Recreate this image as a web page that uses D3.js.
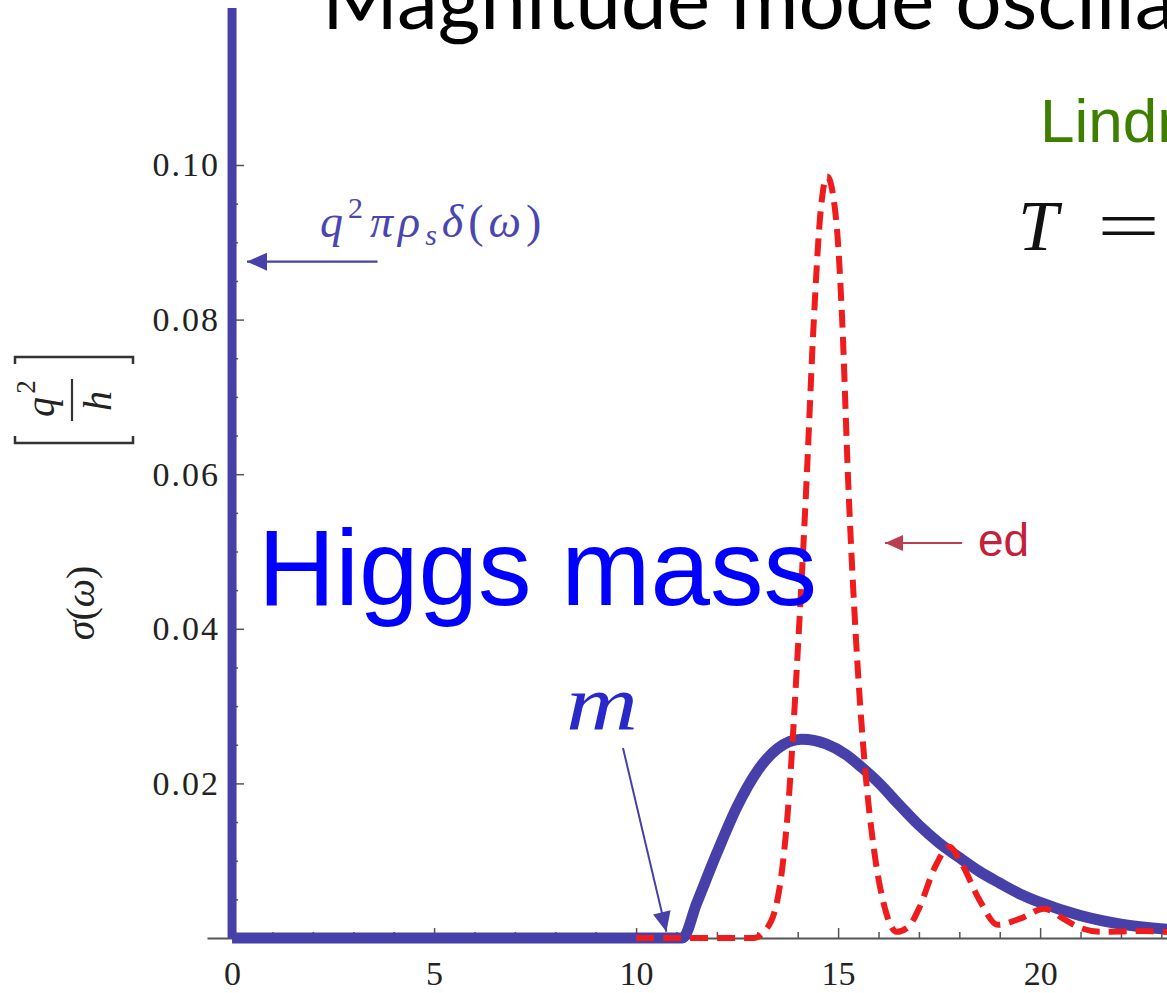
<!DOCTYPE html>
<html>
<head>
<meta charset="utf-8">
<script src="https://cdn.jsdelivr.net/npm/d3@7"></script>
<style>
  html, body { margin: 0; padding: 0; background: #ffffff; }
  svg { display: block; }
</style>
</head>
<body>
<svg id="chart" width="1167" height="993"></svg>
<script>
// Conductivity sigma(omega) of the superfluid: condensate delta peak,
// smooth Higgs (amplitude mode) response and the exact-diagonalization curve.

// Condensate delta function at omega = 0 (clipped at the top of the plot range)
const deltaOmega = [0, 0];
const deltaSigma = [0, 0.1203];

// Smooth amplitude-mode response (thick blue)
const blueOmega = [0, 11.15, 11.5, 12.0, 12.5, 13.0, 13.5, 14.1, 14.7, 15.2, 15.6, 16.0, 16.5, 17.0, 17.5, 18.0, 18.5, 19.0, 19.5, 20.0, 21.0, 22.0, 23.2];
const blueSigma = [0, 0, 0.0045, 0.0110, 0.0170, 0.0216, 0.0245, 0.0257, 0.0251, 0.0237, 0.0220, 0.0201, 0.0173, 0.0146, 0.0123, 0.0104, 0.0086, 0.0071, 0.0057, 0.0046, 0.0029, 0.0018, 0.0011];

// Exact diagonalization result (red dashed)
const redOmega = [10, 12.9, 13.2, 13.5, 13.75, 14.0, 14.2, 14.4, 14.55, 14.73, 14.95, 15.1, 15.25, 15.45, 15.65, 15.9, 16.15, 16.45, 16.75, 17.0, 17.4, 17.75, 18.05, 18.5, 18.95, 19.5, 20.1, 20.6, 21.0, 21.5, 22.5, 23.2];
const redSigma = [0, 0, 0.001, 0.005, 0.016, 0.037, 0.057, 0.080, 0.093, 0.0985, 0.093, 0.080, 0.059, 0.038, 0.023, 0.011, 0.004, 0.0008, 0.0015, 0.0038, 0.0092, 0.0118, 0.0097, 0.0049, 0.0017, 0.0025, 0.0038, 0.0024, 0.0013, 0.0008, 0.0009, 0.0008];

// Axis ticks
const xMajorTicks = [0, 5, 10, 15, 20];
const xMinorTicks = [1, 2, 3, 4, 6, 7, 8, 9, 11, 12, 13, 14, 16, 17, 18, 19, 21, 22, 23];
const yMajorTicks = [0.02, 0.04, 0.06, 0.08, 0.10];
const yMinorTicks = [0.005, 0.01, 0.015, 0.025, 0.03, 0.035, 0.045, 0.05, 0.055, 0.065, 0.07, 0.075, 0.085, 0.09, 0.095];

const svg = d3.select("#chart");
svg.append("rect").attr("width", 1167).attr("height", 993).attr("fill", "#ffffff");

const x = d3.scaleLinear().domain([-0.62, 23.14]).range([207, 1167]);
const y = d3.scaleLinear().domain([0, 0.10]).range([938, 165]);

const serif = "'Liberation Serif', 'Times New Roman', serif";
const sans = "'Liberation Sans', Arial, sans-serif";
const axisGrey = "#555555";
const curveBlue = "#4640a8";

// Slide title (runs off the top and right edge)
svg.append("text")
  .attr("x", 322).attr("y", 29)
  .attr("font-family", "Lato, 'Open Sans', sans-serif")
  .attr("font-size", 82)
  .attr("fill", "#000000")
  .text("Magnitude mode oscillations");

// ---- Axes ----
const gx = svg.append("g").attr("transform", `translate(0,${y(0)})`);
gx.call(d3.axisBottom(x).tickValues(xMinorTicks).tickSize(-6).tickSizeOuter(0).tickFormat(""));
gx.call(g => g.selectAll(".tick line").attr("stroke", axisGrey).attr("stroke-width", 1.5));
gx.select(".domain").attr("stroke", axisGrey).attr("stroke-width", 1.8);

const gxMaj = svg.append("g").attr("transform", `translate(0,${y(0)})`);
gxMaj.call(d3.axisBottom(x).tickValues(xMajorTicks).tickSize(-10).tickSizeOuter(0).tickPadding(23).tickFormat(d3.format("d")));
gxMaj.select(".domain").remove();
gxMaj.selectAll(".tick line").attr("stroke", axisGrey).attr("stroke-width", 1.5);
gxMaj.selectAll(".tick text").attr("font-family", serif).attr("font-size", 34).attr("fill", "#222");

const gy = svg.append("g").attr("transform", `translate(${x(0)},0)`);
gy.call(d3.axisLeft(y).tickValues(yMinorTicks).tickSize(-6).tickSizeOuter(0).tickFormat(""));
gy.select(".domain").remove();
gy.selectAll(".tick line").attr("stroke", axisGrey).attr("stroke-width", 1.5);

const gyMaj = svg.append("g").attr("transform", `translate(${x(0)},0)`);
gyMaj.call(d3.axisLeft(y).tickValues(yMajorTicks).tickSize(-12).tickSizeOuter(0).tickPadding(12).tickFormat(d3.format(".2f")));
gyMaj.select(".domain").remove();
gyMaj.selectAll(".tick line").attr("stroke", axisGrey).attr("stroke-width", 1.5);
gyMaj.selectAll(".tick text").attr("font-family", serif).attr("font-size", 34).attr("fill", "#222")
  .attr("letter-spacing", 2);

// ---- Y axis title: sigma(omega) [q^2/h] ----
const yt = svg.append("g").attr("transform", "translate(94,603) rotate(-90)");
yt.append("text").attr("text-anchor", "middle")
  .attr("font-family", serif).attr("font-size", 40).attr("fill", "#222")
  .call(t => {
    t.append("tspan").attr("font-style", "italic").text("σ");
    t.append("tspan").text("(");
    t.append("tspan").attr("font-style", "italic").text("ω");
    t.append("tspan").text(")");
  });

const fr = svg.append("g").attr("transform", "translate(73,400) rotate(-90)");
const bracketCol = "#333";
fr.append("path").attr("d", "M-36,-58H-43V60H-36").attr("fill", "none").attr("stroke", bracketCol).attr("stroke-width", 2.5);
fr.append("path").attr("d", "M36,-58H43V60H36").attr("fill", "none").attr("stroke", bracketCol).attr("stroke-width", 2.5);
fr.append("line").attr("x1", -21).attr("x2", 21).attr("y1", -1).attr("y2", -1).attr("stroke", "#333").attr("stroke-width", 2.2);
fr.append("text").attr("x", -7).attr("y", -19).attr("text-anchor", "middle")
  .attr("font-family", serif).attr("font-size", 40).attr("font-style", "italic").attr("fill", "#222").text("q");
fr.append("text").attr("x", 13).attr("y", -38).attr("text-anchor", "middle")
  .attr("font-family", serif).attr("font-size", 27).attr("fill", "#222").text("2");
fr.append("text").attr("x", -1).attr("y", 38).attr("text-anchor", "middle")
  .attr("font-family", serif).attr("font-size", 40).attr("font-style", "italic").attr("fill", "#222").text("h");

// ---- Data curves ----
const lineGen = d3.line().x(d => x(d[0])).y(d => y(d[1]));

svg.append("path")
  .datum(d3.zip(deltaOmega, deltaSigma))
  .attr("d", lineGen)
  .attr("fill", "none").attr("stroke", curveBlue).attr("stroke-width", 9);

svg.append("path")
  .datum(d3.zip(blueOmega, blueSigma))
  .attr("d", lineGen.curve(d3.curveMonotoneX))
  .attr("fill", "none").attr("stroke", curveBlue).attr("stroke-width", 11)
  .attr("stroke-linejoin", "round");

svg.append("path")
  .datum(d3.zip(redOmega, redSigma))
  .attr("d", lineGen.curve(d3.curveMonotoneX))
  .attr("fill", "none").attr("stroke", "#ee1c1c").attr("stroke-width", 6)
  .attr("stroke-dasharray", "18,9");

// ---- Annotations ----
function arrow(x1, y1, x2, y2, color, width, head) {
  svg.append("line").attr("x1", x1).attr("y1", y1).attr("x2", x2).attr("y2", y2)
    .attr("stroke", color).attr("stroke-width", width);
  const a = Math.atan2(y2 - y1, x2 - x1);
  const L = head, W = head * 0.45;
  const bx = x2 - L * Math.cos(a), by = y2 - L * Math.sin(a);
  const px = -Math.sin(a) * W, py = Math.cos(a) * W;
  svg.append("path")
    .attr("d", `M${x2},${y2}L${bx + px},${by + py}L${bx - px},${by - py}Z`)
    .attr("fill", color);
}

// Delta-function label
svg.append("text")
  .attr("x", 320).attr("y", 237)
  .attr("font-family", serif).attr("font-size", 46).attr("fill", "#4a46b0")
  .attr("letter-spacing", 5)
  .call(t => {
    t.append("tspan").attr("font-style", "italic").text("q");
    t.append("tspan").attr("font-size", 30).attr("dy", -19).text("2");
    t.append("tspan").attr("font-style", "italic").attr("dy", 19).attr("dx", 2).text("πρ");
    t.append("tspan").attr("font-style", "italic").attr("font-size", 30).attr("dy", 8).text("s");
    t.append("tspan").attr("font-style", "italic").attr("dy", -8).text("δ");
    t.append("tspan").text("(");
    t.append("tspan").attr("font-style", "italic").text("ω");
    t.append("tspan").text(")");
  });
arrow(x(3.6), y(0.0875), x(0.37), y(0.0875), curveBlue, 2.2, 20);

// Exact-diagonalization label
svg.append("text")
  .attr("x", 978).attr("y", 556)
  .attr("font-family", sans).attr("font-size", 46).attr("fill", "#c4203a")
  .text("ed");
arrow(x(18.07), y(0.0511), x(16.16), y(0.0511), "#b84050", 2.2, 18);

// Threshold label m
svg.append("text")
  .attr("x", 566).attr("y", 730)
  .attr("font-family", serif).attr("font-size", 78).attr("font-style", "italic").attr("fill", "#2a28c8")
  .attr("textLength", 72).attr("lengthAdjust", "spacingAndGlyphs")
  .text("m");
arrow(623, 748, x(10.75), y(0.0008), curveBlue, 2, 20);

// "Higgs mass" headline
svg.append("text")
  .attr("x", 258).attr("y", 605)
  .attr("font-family", sans).attr("font-size", 107).attr("fill", "#0000ff")
  .text("Higgs mass");

// Reference and temperature (run off the right edge)
svg.append("text")
  .attr("x", 1040).attr("y", 142)
  .attr("font-family", sans).attr("font-size", 62).attr("fill", "#3f7f00")
  .text("Lindner and Auerbach");

svg.append("text")
  .attr("x", 1018).attr("y", 250)
  .attr("font-family", serif).attr("font-size", 72).attr("font-style", "italic").attr("fill", "#111")
  .text("T");
svg.append("text")
  .attr("x", 1097).attr("y", 250)
  .attr("font-family", serif).attr("font-size", 72).attr("fill", "#111")
  .attr("textLength", 63).attr("lengthAdjust", "spacingAndGlyphs")
  .text("=");
</script>
</body>
</html>
